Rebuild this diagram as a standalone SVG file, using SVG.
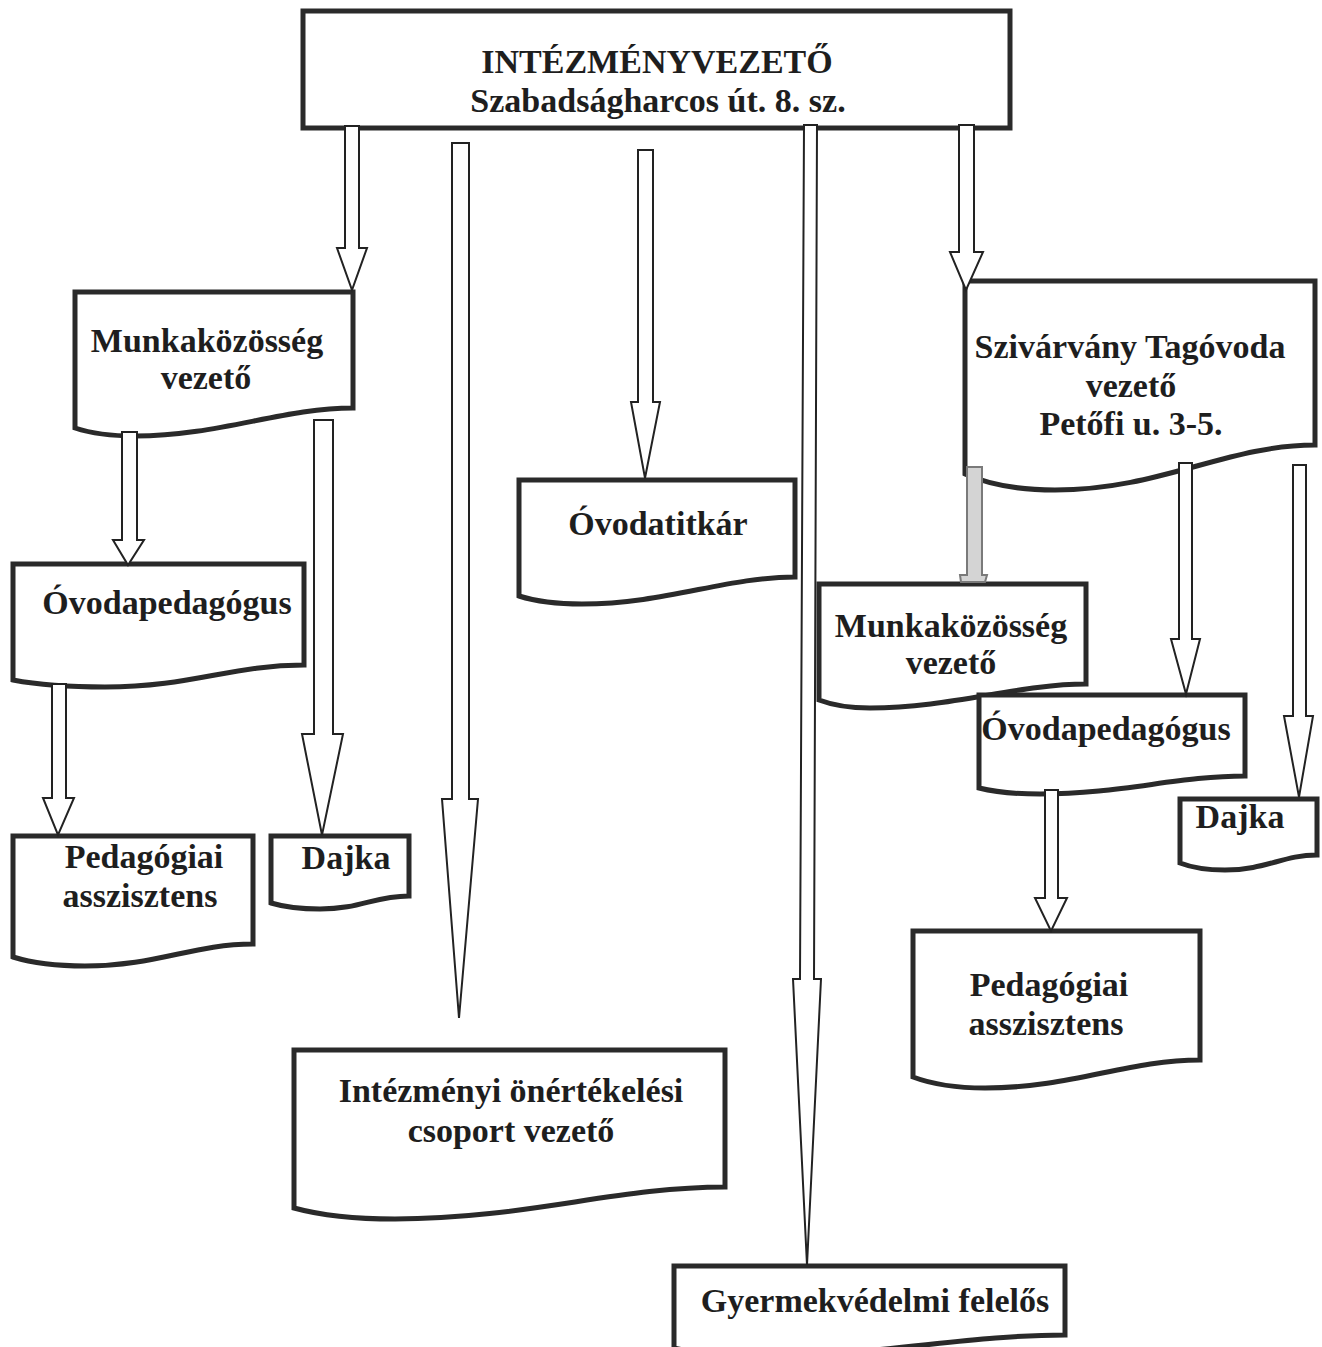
<svg xmlns="http://www.w3.org/2000/svg" width="1322" height="1347" viewBox="0 0 1322 1347">
<style>
.box{fill:#fff;stroke:#2a2a2a;stroke-width:5;stroke-linejoin:miter}
.t{font-family:"Liberation Serif","Times New Roman",serif;font-weight:bold;font-size:34px;fill:#1e1e1e;text-anchor:middle}
.arr{fill:#fff;stroke:#222;stroke-width:2;stroke-linejoin:miter}
.garr{fill:#d4d4d4;stroke:#7a7a7a;stroke-width:2}
</style>
<rect width="1322" height="1347" fill="#fff"/>
<g id="nodes">
<g id="intezmenyvezeto">
<rect class="box" x="303" y="11" width="707" height="117" stroke-width="6"/>
<text class="t" x="657" y="73">INTÉZMÉNYVEZETŐ</text>
<text class="t" x="658" y="112">Szabadságharcos út. 8. sz.</text>
</g>
<g id="munkakozosseg-bal">
<path class="box" d="M75,292 H353 V408 C283,408 218,436 135,436 Q99,436 75,428 Z"/>
<text class="t" x="207" y="352">Munkaközösség</text>
<text class="t" x="206" y="389">vezető</text>
</g>
<g id="ovodapedagogus-bal">
<path class="box" d="M13,564 H304 V665 C231,665 192,687 105,687 Q50,687 13,680 Z"/>
<text class="t" x="167" y="614">Óvodapedagógus</text>
</g>
<g id="pedasszisztens-bal">
<path class="box" d="M13,836 H253 V944 C193,944 157,966 85,966 Q42,966 13,957 Z"/>
<text class="t" x="144" y="868">Pedagógiai</text>
<text class="t" x="140" y="907">asszisztens</text>
</g>
<g id="dajka-bal">
<path class="box" d="M271,836 H409 V896 C374,896 361,909 320,909 Q291,909 271,903 Z"/>
<text class="t" x="346" y="869">Dajka</text>
</g>
<g id="ovodatitkar">
<path class="box" d="M519,480 H795 V577 C726,577 665,604 582,604 Q544,604 519,596 Z"/>
<text class="t" x="658" y="535">Óvodatitkár</text>
</g>
<g id="onertekelesi">
<path class="box" d="M294,1050 H725 V1187 C617,1187 524,1219 395,1219 Q334,1219 294,1208 Z"/>
<text class="t" x="511" y="1102">Intézményi önértékelési</text>
<text class="t" x="511" y="1142">csoport vezető</text>
</g>
<g id="gyermekvedelmi">
<path class="box" d="M674,1266 H1065 V1335 C967,1335 877,1356 760,1356 Q708,1356 674,1348 Z"/>
<text class="t" x="875" y="1312">Gyermekvédelmi felelős</text>
</g>
<g id="szivarvany">
<path class="box" d="M965,281 H1315 V445 C1227,445 1160,490 1055,490 Q1001,490 965,474 Z"/>
<text class="t" x="1130" y="358">Szivárvány Tagóvoda</text>
<text class="t" x="1131" y="397">vezető</text>
<text class="t" x="1131" y="435">Petőfi u. 3-5.</text>
</g>
<g id="munkakozosseg-jobb">
<path class="box" d="M819,584 H1086 V684 C1019,684 950,708 870,708 Q840,708 819,700 Z"/>
<text class="t" x="951" y="637">Munkaközösség</text>
<text class="t" x="951" y="674">vezető</text>
</g>
<g id="ovodapedagogus-jobb">
<path class="box" d="M979,695 H1245 V776 C1178,776 1120,794 1040,794 Q1003,794 979,788 Z"/>
<text class="t" x="1106" y="740">Óvodapedagógus</text>
</g>
<g id="dajka-jobb">
<path class="box" d="M1180,799 H1317 V855 C1283,855 1266,870 1225,870 Q1198,870 1180,863 Z"/>
<text class="t" x="1240" y="828">Dajka</text>
</g>
<g id="pedasszisztens-jobb">
<path class="box" d="M913,931 H1200 V1060 C1128,1060 1071,1088 985,1088 Q942,1088 913,1077 Z"/>
<text class="t" x="1049" y="996">Pedagógiai</text>
<text class="t" x="1046" y="1035">asszisztens</text>
</g>
</g>
<g id="connectors">
<polygon class="arr" points="345,126 359,126 359,248 367,248 352,290 337,248 345,248"/>
<polygon class="arr" points="452,143 469,143 469,799 478,799 459,1018 442,799 452,799"/>
<polygon class="arr" points="638,150 653,150 653,402 660,402 645,478 631,402 638,402"/>
<polygon class="arr" points="804,125 817,125 814,979 821,979 807,1265 793,979 800,979"/>
<polygon class="arr" points="959,125 974,125 974,252 983,252 966,290 950,252 959,252"/>
<polygon class="arr" points="122,432 137,432 137,540 144,540 128,565 113,540 122,540"/>
<polygon class="arr" points="314,420 333,420 333,734 343,734 322,835 302,734 314,734"/>
<polygon class="arr" points="52,684 66,684 66,798 74,798 58,835 43,798 52,798"/>
<polygon class="garr" points="967,467 982,467 982,575 987,575 985,582 961,582 960,575 967,575"/>
<polygon class="arr" points="1179,463 1192,463 1192,639 1200,639 1186,694 1171,639 1179,639"/>
<polygon class="arr" points="1293,465 1306,465 1306,716 1313,716 1299,797 1284,716 1293,716"/>
<polygon class="arr" points="1045,790 1058,790 1058,898 1067,898 1051,931 1035,898 1045,898"/>
</g>
</svg>
